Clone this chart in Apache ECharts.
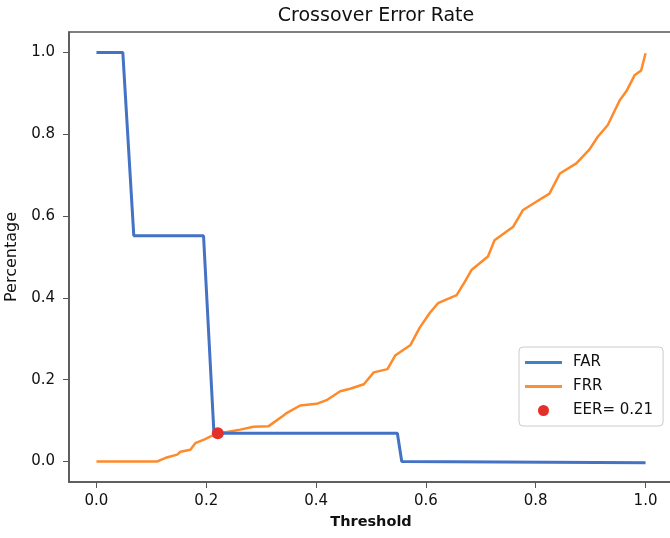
<!DOCTYPE html>
<html>
<head>
<meta charset="utf-8">
<script src="https://cdn.jsdelivr.net/npm/echarts@6/dist/echarts.min.js"></script>
<style>
  html, body { margin: 0; padding: 0; background: #fff; }
  #main { width: 670px; height: 538px; }
</style>
</head>
<body>
<div id="main"></div>
<script>
// thresholds / rates
var farX = [0, 0.048, 0.068, 0.195, 0.214, 0.548, 0.556, 1.0];
var farY = [1.0, 1.0, 0.552, 0.552, 0.069, 0.069, 0.0, -0.003];

var frrX = [0, 0.11, 0.128, 0.147, 0.153, 0.171, 0.18, 0.189, 0.198, 0.207, 0.221, 0.24, 0.262, 0.286, 0.313,
  0.34, 0.347, 0.371, 0.401, 0.419, 0.444, 0.462, 0.487, 0.505, 0.53, 0.544, 0.572, 0.589, 0.607, 0.622,
  0.656, 0.671, 0.683, 0.713, 0.725, 0.759, 0.777, 0.801, 0.825, 0.844, 0.874, 0.898, 0.913, 0.931,
  0.953, 0.965, 0.98, 0.992, 1.0];
var frrY = [0, 0, 0.01, 0.017, 0.024, 0.029, 0.045, 0.05, 0.055, 0.061, 0.069, 0.073, 0.078, 0.085, 0.086,
  0.112, 0.119, 0.137, 0.141, 0.15, 0.172, 0.178, 0.189, 0.218, 0.226, 0.259, 0.285, 0.328, 0.363, 0.387,
  0.407, 0.44, 0.468, 0.501, 0.541, 0.574, 0.615, 0.635, 0.655, 0.704, 0.729, 0.763, 0.794, 0.822,
  0.883, 0.905, 0.944, 0.956, 0.998];

var eerX = [0.221];
var eerY = [0.069];

var xTicks = [0, 0.2, 0.4, 0.6, 0.8, 1.0];
var yTicks = [0, 0.2, 0.4, 0.6, 0.8, 1.0];

function pairs(xs, ys) {
    var out = [];
    for (var i = 0; i < xs.length; i++) {
        out.push([xs[i], ys[i]]);
    }
    return out;
}

var font = 'DejaVu Sans';
var lineIcon = 'path://M0,0H37V3H0Z';
var chart = echarts.init(document.getElementById('main'));

chart.setOption({
    backgroundColor: '#fff',
    animation: false,
    title: {
        text: 'Crossover Error Rate',
        left: 371,
        top: 2,
        textAlign: 'center',
        textStyle: { fontFamily: font, fontSize: 19, fontWeight: 'normal', color: '#111' }
    },
    grid: {
        left: 69, top: 32, right: -3, bottom: 56,
        outerBoundsMode: 'none',
        show: true, borderColor: '#555', borderWidth: 1.5, backgroundColor: 'transparent'
    },
    legend: {
        orient: 'vertical',
        left: 519, top: 347,
        padding: [8, 10, 8, 6],
        itemWidth: 37, itemHeight: 11, itemGap: 9,
        backgroundColor: '#fff',
        borderColor: '#ccc', borderWidth: 1, borderRadius: 4,
        textStyle: { fontFamily: font, fontSize: 15, color: '#111', padding: [0, 0, 0, 6] },
        data: [
            { name: 'FAR', icon: lineIcon, itemStyle: { color: '#3d84c6' } },
            { name: 'FRR', icon: lineIcon, itemStyle: { color: '#ff8f33' } },
            { name: 'EER= 0.21', icon: 'circle' }
        ]
    },
    xAxis: {
        type: 'value',
        min: -0.05, max: 1.05,
        name: 'Threshold',
        nameLocation: 'middle',
        nameGap: 33,
        nameTextStyle: { fontFamily: font, fontSize: 14.5, fontWeight: 'bold', color: '#111' },
        axisLine: { show: true, onZero: false, lineStyle: { color: '#555', width: 1.5 } },
        axisTick: { show: true, length: 6, lineStyle: { color: '#555' }, customValues: xTicks },
        axisLabel: {
            fontFamily: font, fontSize: 15, color: '#111', margin: 12,
            customValues: xTicks,
            formatter: function (v) { return v.toFixed(1); }
        },
        splitLine: { show: false }
    },
    yAxis: {
        type: 'value',
        min: -0.05, max: 1.05,
        name: 'Percentage',
        nameLocation: 'middle',
        nameGap: 46,
        nameTextStyle: { fontFamily: font, fontSize: 16, color: '#111' },
        axisLine: { show: true, onZero: false, lineStyle: { color: '#555', width: 1.5 } },
        axisTick: { show: true, length: 6, lineStyle: { color: '#555' }, customValues: yTicks },
        axisLabel: {
            fontFamily: font, fontSize: 15, color: '#111', margin: 14,
            customValues: yTicks,
            formatter: function (v) { return v.toFixed(1); }
        },
        splitLine: { show: false }
    },
    series: [
        {
            name: 'FAR',
            type: 'line',
            data: pairs(farX, farY),
            symbol: 'none',
            color: '#4472c4',
            lineStyle: { width: 3, color: '#4472c4' },
            z: 2
        },
        {
            name: 'FRR',
            type: 'line',
            data: pairs(frrX, frrY),
            symbol: 'none',
            color: '#ff8a2a',
            lineStyle: { width: 2.5, color: '#ff8a2a' },
            z: 1
        },
        {
            name: 'EER= 0.21',
            type: 'scatter',
            data: pairs(eerX, eerY),
            symbolSize: 12,
            itemStyle: { color: '#e3302b', opacity: 1 },
            z: 3
        }
    ]
});
</script>
</body>
</html>
